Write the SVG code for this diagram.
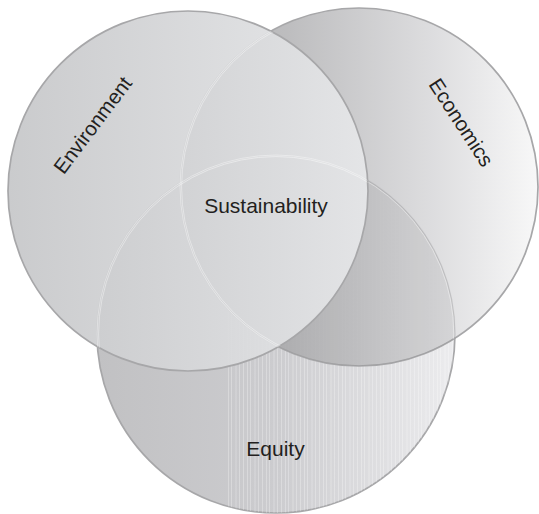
<svg xmlns="http://www.w3.org/2000/svg" width="539" height="514" viewBox="0 0 539 514">
  <style>
    .ring { stroke: #a7a7a9; stroke-width: 1.7; }
    .label { font-family: "Liberation Sans", Arial, Helvetica, sans-serif; fill: #231f20; }
    .edge-light { fill: none; stroke: #ffffff; stroke-opacity: 0.4; stroke-width: 1; }
    .edge-dark { fill: none; stroke: #9c9c9e; stroke-opacity: 0.35; stroke-width: 1; }
    .stripe { stroke: #ffffff; stroke-opacity: 0.35; stroke-width: 0.8; }
  </style>
  <defs>
    <linearGradient id="fillEquity" gradientUnits="userSpaceOnUse" x1="97" y1="0" x2="455" y2="0">
      <stop offset="0" stop-color="#c1c1c3"/>
      <stop offset="0.5" stop-color="#cccccf"/>
      <stop offset="1" stop-color="#ececee"/>
    </linearGradient>
    <linearGradient id="fillEconomics" gradientUnits="userSpaceOnUse" x1="180" y1="0" x2="538" y2="0">
      <stop offset="0" stop-color="#a8a8aa"/>
      <stop offset="0.3" stop-color="#b6b6b8"/>
      <stop offset="0.7" stop-color="#d9d9db"/>
      <stop offset="1" stop-color="#f7f7f7"/>
    </linearGradient>
    <linearGradient id="fillEnvironment" gradientUnits="userSpaceOnUse" x1="8" y1="0" x2="368" y2="0">
      <stop offset="0" stop-color="#c6c7c9"/>
      <stop offset="1" stop-color="#e6e7e9"/>
    </linearGradient>
    <!-- fine vertical streaks across the lower half of the equity disc -->
    <pattern id="streaks" patternUnits="userSpaceOnUse" width="19" height="10">
      <line class="stripe" x1="0.5" y1="0" x2="0.5" y2="10"/>
      <line class="stripe" x1="3.5" y1="0" x2="3.5" y2="10"/>
      <line class="stripe" x1="8" y1="0" x2="8" y2="10"/>
      <line class="stripe" x1="11.5" y1="0" x2="11.5" y2="10"/>
      <line class="stripe" x1="15.5" y1="0" x2="15.5" y2="10"/>
    </pattern>
    <clipPath id="clipEquity"><circle cx="276" cy="334" r="179"/></clipPath>
    <clipPath id="clipEconomics"><circle cx="359" cy="187" r="179"/></clipPath>
    <clipPath id="clipEnvironment"><circle cx="188" cy="191" r="180"/></clipPath>
  </defs>

  <g id="connectors"/>

  <g id="equity">
    <circle class="ring" cx="276" cy="334" r="179" fill="url(#fillEquity)"/>
    <rect x="228" y="150" width="232" height="366" fill="url(#streaks)" clip-path="url(#clipEquity)"/>
    <text class="label" x="275.5" y="456" font-size="21" text-anchor="middle">Equity</text>
  </g>

  <g id="economics">
    <circle class="ring" cx="359" cy="187" r="179" fill="url(#fillEconomics)" fill-opacity="0.9"/>
    <!-- darker lens where economics overlaps equity, plus the equity rim seen through -->
    <g clip-path="url(#clipEconomics)">
      <circle cx="276" cy="334" r="179" fill="#000000" fill-opacity="0.05"/>
      <circle class="edge-dark" cx="276" cy="334" r="179"/>
      <circle class="edge-light" cx="276" cy="334" r="177.8"/>
    </g>
    <text class="label" transform="translate(455.3 126.4) rotate(57)" font-size="20.5" text-anchor="middle">Economics</text>
  </g>

  <g id="environment">
    <circle class="ring" cx="188" cy="191" r="180" fill="url(#fillEnvironment)" fill-opacity="0.93"/>
    <!-- rims of the discs underneath, showing faintly through -->
    <g clip-path="url(#clipEnvironment)">
      <circle class="edge-light" cx="359" cy="187" r="179"/>
      <circle class="edge-light" cx="359" cy="187" r="177.4" stroke-opacity="0.22"/>
      <circle class="edge-light" cx="276" cy="334" r="179"/>
      <circle class="edge-light" cx="276" cy="334" r="177.4" stroke-opacity="0.22"/>
    </g>
    <text class="label" transform="translate(98.4 129.3) rotate(-53)" font-size="20.5" text-anchor="middle">Environment</text>
  </g>

  <g id="sustainability">
    <text class="label" x="266" y="213" font-size="21" text-anchor="middle">Sustainability</text>
  </g>
</svg>
